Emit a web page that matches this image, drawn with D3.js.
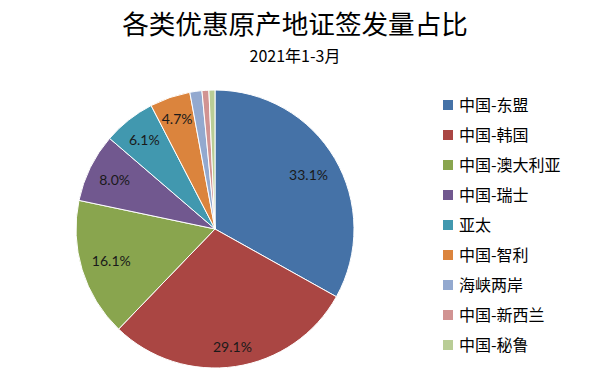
<!DOCTYPE html>
<html><head><meta charset="utf-8">
<script src="https://cdn.jsdelivr.net/npm/d3@7"></script>
<style>body{margin:0;background:#fff;}svg{display:block;}</style>
</head><body>
<svg id="c" width="591" height="384"></svg>
<script>
const categories = ["中国-东盟","中国-韩国","中国-澳大利亚","中国-瑞士","亚太","中国-智利","海峡两岸","中国-新西兰","中国-秘鲁"];
const values = [33.1, 29.1, 16.1, 8.0, 6.1, 4.7, 1.4, 0.8, 0.7];
const labels = ["33.1%","29.1%","16.1%","8.0%","6.1%","4.7%","","",""];
const colors = ["#4572A7","#AA4643","#89A54E","#71588F","#4198AF","#DB843D","#93A9CF","#D19392","#B9CD96"];

const svg = d3.select("#c");
const cjk = "'Noto Sans CJK SC', 'Noto Sans', sans-serif";
svg.append("text").attr("x", 295).attr("y", 34).attr("text-anchor","middle")
  .attr("font-family", cjk).attr("font-size", 26.6).attr("fill","#000")
  .text("各类优惠原产地证签发量占比");
svg.append("text").attr("x", 295).attr("y", 62).attr("text-anchor","middle")
  .attr("font-family", cjk).attr("font-size", 16).attr("fill","#000")
  .text("2021年1-3月");

const cx = 215, cy = 229, r = 139;
const pie = d3.pie().sort(null).value(d => d)(values);
const arc = d3.arc().innerRadius(0).outerRadius(r);
const g = svg.append("g").attr("transform", `translate(${cx},${cy})`);
g.selectAll("path").data(pie).join("path")
  .attr("d", arc).attr("fill", (d,i) => colors[i])
  .attr("stroke", "#fff").attr("stroke-width", 1);

// labels placed inside end
const lg = g.selectAll("text.l").data(pie).join("text").attr("class","l")
  .attr("font-family", "Lato, 'Liberation Sans', sans-serif").attr("font-size", 14)
  .attr("fill", "#1a1a1a").attr("text-anchor","middle").attr("dominant-baseline","central")
  .text((d,i) => labels[i]);
lg.each(function(d) {
  const bb = this.getBBox();
  const w = bb.width, h = bb.height * 0.75;
  const a = (d.startAngle + d.endAngle) / 2;
  const ux = Math.sin(a), uy = -Math.cos(a);
  const pad = 10;
  let best = 0;
  for (let dd = 0; dd < r; dd += 0.5) {
    const px = dd*ux, py = dd*uy;
    let ok = true;
    for (const sx of [-1,1]) for (const sy of [-1,1]) {
      const qx = px + sx*w/2, qy = py + sy*h/2;
      if (Math.hypot(qx,qy) > r - pad) ok = false;
    }
    if (ok) best = dd; else break;
  }
  d3.select(this).attr("x", best*ux).attr("y", best*uy);
});

const leg = svg.append("g");
categories.forEach((c,i) => {
  const y = 104 + i*30;
  leg.append("rect").attr("x", 443).attr("y", y - 4).attr("width", 10).attr("height", 10).attr("fill", colors[i]);
  leg.append("text").attr("x", 459).attr("y", y).attr("dominant-baseline","central")
    .attr("font-family", cjk).attr("font-size", 16).attr("fill","#000").text(c);
});
</script>
</body></html>
